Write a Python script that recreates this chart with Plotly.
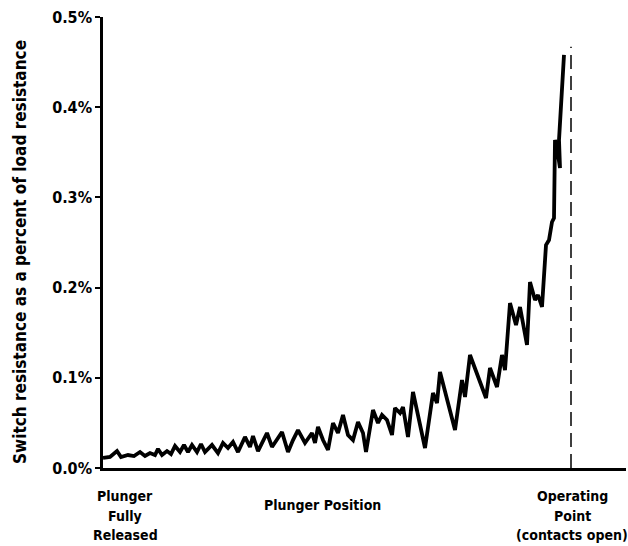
import plotly.graph_objects as go

# Plunger position (arbitrary units, 0 = fully released)
position = [0, 7, 14, 18, 25, 31, 37, 42, 47, 52, 55, 59, 64, 68, 72, 77, 81, 85, 89, 94,
            98, 102, 109, 115, 120, 125, 130, 135, 142, 147, 150, 155, 164, 169, 179, 185,
            190, 195, 202, 209, 212, 215, 220, 225, 230, 235, 240, 245, 250, 255, 260, 263,
            270, 275, 279, 284, 289, 292, 297, 300, 305, 310, 322, 330, 334, 337, 352, 359,
            362, 367, 383, 387, 394, 399, 402, 407, 413, 417, 424, 427, 432, 435, 439, 443,
            446, 449, 451, 452, 454, 457, 456, 461]
# Switch resistance as a percent of load resistance
resistance = [0.0111, 0.0122, 0.0188, 0.0122, 0.0144, 0.0133, 0.0177, 0.0133, 0.0166, 0.0144,
              0.0211, 0.0144, 0.0188, 0.0155, 0.0244, 0.0177, 0.0255, 0.0177, 0.0255, 0.0177,
              0.0266, 0.0177, 0.0255, 0.0166, 0.0277, 0.0222, 0.0288, 0.0177, 0.0344, 0.0233,
              0.0355, 0.0188, 0.0388, 0.0233, 0.0399, 0.0177, 0.0310, 0.0421, 0.0277, 0.0388,
              0.0277, 0.0455, 0.0310, 0.0200, 0.0499, 0.0388, 0.0588, 0.0366, 0.0310, 0.0510,
              0.0388, 0.0177, 0.0643, 0.0499, 0.0588, 0.0532, 0.0366, 0.0665, 0.0610, 0.0676,
              0.0344, 0.0843, 0.0222, 0.0831, 0.0721, 0.1064, 0.0421, 0.0976, 0.0787, 0.1253,
              0.0776, 0.1109, 0.0898, 0.1253, 0.1086, 0.1829, 0.1585, 0.1785, 0.1364, 0.2062,
              0.1863, 0.1918, 0.1785, 0.2472, 0.2528, 0.2727, 0.2772, 0.3636, 0.3548, 0.3326,
              0.3636, 0.4579]

operating_point = 468
operating_top = 0.467
y_ticks = [0.0, 0.1, 0.2, 0.3, 0.4, 0.5]
y_title = "Switch resistance as a percent of load resistance"
# (x position, text, pixel offset of line centre below the x axis)
label_lines = [(22, "Plunger", 28), (22, "Fully", 48), (22, "Released", 67),
               (219, "Plunger Position", 37),
               (469, "Operating", 28), (469, "Point", 48), (469, "(contacts open)", 67)]

FONT = "Liberation Sans Narrow, DejaVu Sans Condensed, Arial Narrow, sans-serif"

fig = go.Figure()
fig.add_trace(go.Scatter(x=position, y=resistance, mode="lines",
                         line=dict(color="black", width=3.8), hoverinfo="skip"))

fig.add_shape(type="line", xref="x", yref="y", x0=operating_point, x1=operating_point,
              y0=0, y1=operating_top, line=dict(color="black", width=1.5, dash="14px,7px"))

for x, txt, off in label_lines:
    fig.add_annotation(x=x, y=0, xref="x", yref="paper", text=txt, showarrow=False,
                       yanchor="middle", yshift=-off, align="center",
                       font=dict(family=FONT, size=14, color="black", weight="bold"))

fig.add_annotation(x=0, y=0.479, xref="paper", yref="paper", xanchor="center", yanchor="middle",
                   xshift=-83, text=y_title, showarrow=False, textangle=-90,
                   font=dict(family=FONT, size=17, color="black", weight="bold"))

fig.update_layout(
    width=628, height=546,
    margin=dict(l=103, r=2, t=17, b=78),
    paper_bgcolor="white", plot_bgcolor="white",
    showlegend=False,
    xaxis=dict(range=[0, 523], showgrid=False, zeroline=False, showticklabels=False,
               ticks="", showline=True, linecolor="black", linewidth=2.5),
    yaxis=dict(range=[0, 0.5], tickvals=y_ticks, ticktext=[f"{v:.1f}%" for v in y_ticks],
               showgrid=False, zeroline=False, showline=True, linecolor="black", linewidth=2.5,
               ticks="outside", ticklen=5, tickwidth=2, tickcolor="black",
               tickfont=dict(family=FONT, size=16, color="black", weight="bold")),
)

fig.write_html("out.html", config={"displayModeBar": False},
               post_script="document.body.style.margin='0px';"
                           "document.body.style.overflow='hidden';")
